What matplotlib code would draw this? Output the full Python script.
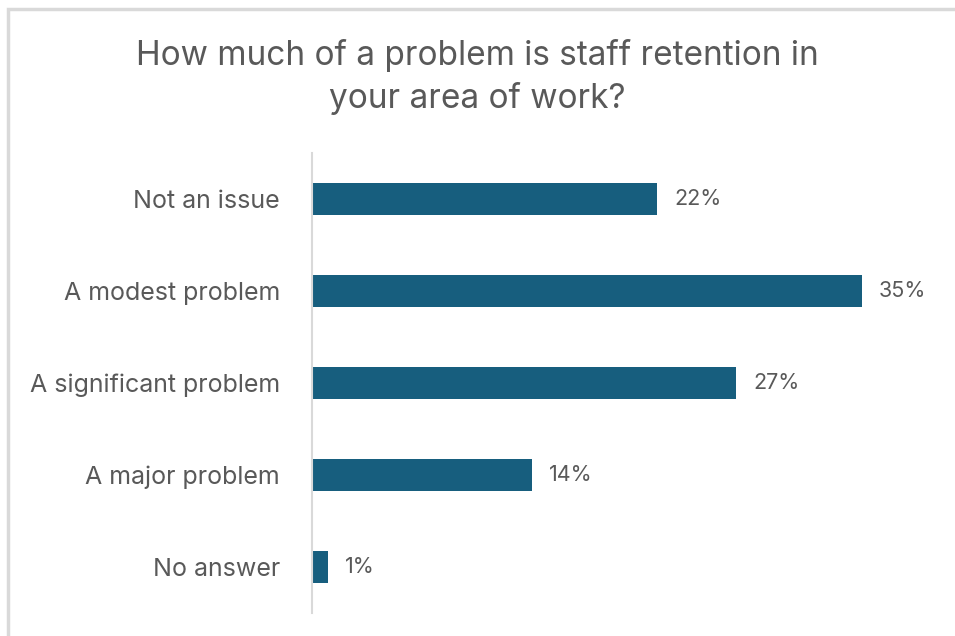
import matplotlib.pyplot as plt
from matplotlib.patches import Rectangle

# survey responses
categories = ["Not an issue", "A modest problem", "A significant problem",
              "A major problem", "No answer"]
percentages = [22, 35, 27, 14, 1]
value_labels = ["22%", "35%", "27%", "14%", "1%"]

bar_color = "#175E7E"
text_color = "#595959"

plt.rcParams['font.family'] = ['Inter', 'DejaVu Sans']

fig = plt.figure(figsize=(9.55, 6.36), dpi=100)

# light grey frame round the chart
fig.patches.append(Rectangle((8 / 955, -0.1), 1.2, 1 - 9 / 636 + 0.1,
                             transform=fig.transFigure, fill=False,
                             edgecolor="#D9D9D9", linewidth=2.5))

ax = fig.add_axes([312 / 955, 23 / 636, 628 / 955, 460 / 636])

y = list(range(len(categories)))
ax.barh(y, percentages, height=0.35, color=bar_color)
ax.set_ylim(len(categories) - 0.5, -0.5)
ax.set_xlim(0, 40)

for yi, v, lab in zip(y, percentages, value_labels):
    ax.text(v + 1.1, yi, lab, va="center", ha="left", fontsize=15.5,
            color=text_color)

ax.set_yticks(y)
ax.set_yticklabels(categories, fontsize=18, color=text_color)
ax.tick_params(axis="y", length=0, pad=23)
ax.set_xticks([])

for side in ["top", "right", "bottom"]:
    ax.spines[side].set_visible(False)
ax.spines["left"].set_color("#D9D9D9")
ax.spines["left"].set_linewidth(1.5)

fig.text(0.5, 1 - 77 / 636, "How much of a problem is staff retention in\nyour area of work?",
         ha="center", va="center", fontsize=24, color=text_color,
         linespacing=1.35)

fig.savefig("out.png", dpi=100)
